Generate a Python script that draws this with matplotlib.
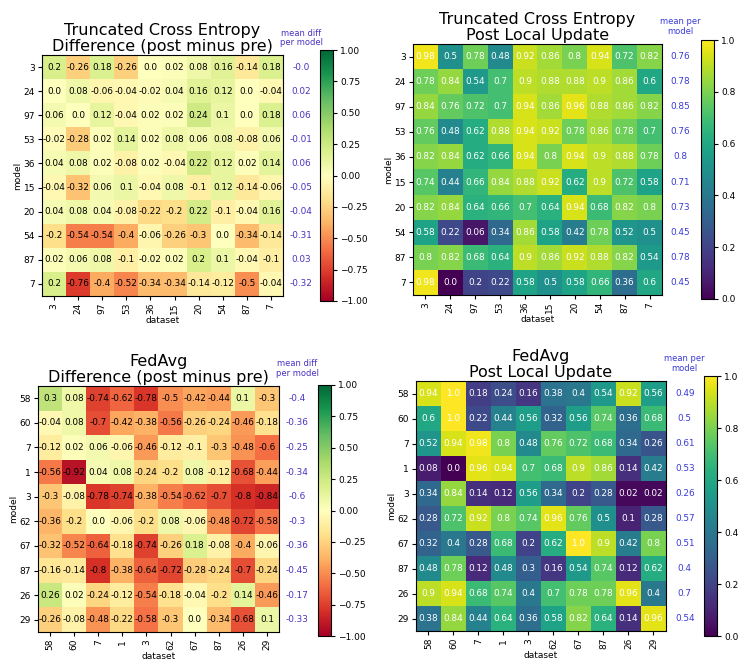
import matplotlib
matplotlib.use('Agg')
import matplotlib.pyplot as plt
import numpy as np

W, H = 738, 662

tce_ids = [3, 24, 97, 53, 36, 15, 20, 54, 87, 7]
fed_ids = [58, 60, 7, 1, 3, 62, 67, 87, 26, 29]

tce_diff = [
  [0.2, -0.26, 0.18, -0.26, 0.0, 0.02, 0.08, 0.16, -0.14, 0.18],
  [0.0, 0.08, -0.06, -0.04, -0.02, 0.04, 0.16, 0.12, 0.0, -0.04],
  [0.06, 0.0, 0.12, -0.04, 0.02, 0.02, 0.24, 0.1, 0.0, 0.18],
  [-0.02, -0.28, 0.02, 0.14, 0.02, 0.08, 0.06, 0.08, -0.08, 0.06],
  [0.04, 0.08, 0.02, -0.08, 0.02, -0.04, 0.22, 0.12, 0.02, 0.14],
  [-0.04, -0.32, 0.06, 0.1, -0.04, 0.08, -0.1, 0.12, -0.14, -0.06],
  [0.04, 0.08, 0.04, -0.08, -0.22, -0.2, 0.22, -0.1, -0.04, 0.16],
  [-0.2, -0.54, -0.54, -0.4, -0.06, -0.26, -0.3, 0.0, -0.34, -0.14],
  [0.02, 0.06, 0.08, -0.1, -0.02, 0.02, 0.2, 0.1, -0.04, -0.1],
  [0.2, -0.76, -0.4, -0.52, -0.34, -0.34, -0.14, -0.12, -0.5, -0.04],
]
tce_diff_mean = ['-0.0', '0.02', '0.06', '-0.01', '0.06', '-0.05', '-0.04', '-0.31', '0.03', '-0.32']

tce_post = [
  [0.98, 0.5, 0.78, 0.48, 0.92, 0.86, 0.8, 0.94, 0.72, 0.82],
  [0.78, 0.84, 0.54, 0.7, 0.9, 0.88, 0.88, 0.9, 0.86, 0.6],
  [0.84, 0.76, 0.72, 0.7, 0.94, 0.86, 0.96, 0.88, 0.86, 0.82],
  [0.76, 0.48, 0.62, 0.88, 0.94, 0.92, 0.78, 0.86, 0.78, 0.7],
  [0.82, 0.84, 0.62, 0.66, 0.94, 0.8, 0.94, 0.9, 0.88, 0.78],
  [0.74, 0.44, 0.66, 0.84, 0.88, 0.92, 0.62, 0.9, 0.72, 0.58],
  [0.82, 0.84, 0.64, 0.66, 0.7, 0.64, 0.94, 0.68, 0.82, 0.8],
  [0.58, 0.22, 0.06, 0.34, 0.86, 0.58, 0.42, 0.78, 0.52, 0.5],
  [0.8, 0.82, 0.68, 0.64, 0.9, 0.86, 0.92, 0.88, 0.82, 0.54],
  [0.98, 0.0, 0.2, 0.22, 0.58, 0.5, 0.58, 0.66, 0.36, 0.6],
]
tce_post_mean = ['0.76', '0.78', '0.85', '0.76', '0.8', '0.71', '0.73', '0.45', '0.78', '0.45']

fed_diff = [
  [0.3, 0.08, -0.74, -0.62, -0.78, -0.5, -0.42, -0.44, 0.1, -0.3],
  [-0.04, 0.08, -0.7, -0.42, -0.38, -0.56, -0.26, -0.24, -0.46, -0.18],
  [-0.12, 0.02, 0.06, -0.06, -0.46, -0.12, -0.1, -0.3, -0.48, -0.6],
  [-0.56, -0.92, 0.04, 0.08, -0.24, -0.2, 0.08, -0.12, -0.68, -0.44],
  [-0.3, -0.08, -0.78, -0.74, -0.38, -0.54, -0.62, -0.7, -0.8, -0.84],
  [-0.36, -0.2, 0.0, -0.06, -0.2, 0.08, -0.06, -0.48, -0.72, -0.58],
  [-0.32, -0.52, -0.64, -0.18, -0.74, -0.26, 0.18, -0.08, -0.4, -0.06],
  [-0.16, -0.14, -0.8, -0.38, -0.64, -0.72, -0.28, -0.24, -0.7, -0.24],
  [0.26, 0.02, -0.24, -0.12, -0.54, -0.18, -0.04, -0.2, 0.14, -0.46],
  [-0.26, -0.08, -0.48, -0.22, -0.58, -0.3, 0.0, -0.34, -0.68, 0.1],
]
fed_diff_mean = ['-0.4', '-0.36', '-0.25', '-0.34', '-0.6', '-0.3', '-0.36', '-0.45', '-0.17', '-0.33']

fed_post = [
  [0.94, 1.0, 0.18, 0.24, 0.16, 0.38, 0.4, 0.54, 0.92, 0.56],
  [0.6, 1.0, 0.22, 0.44, 0.56, 0.32, 0.56, 0.74, 0.36, 0.68],
  [0.52, 0.94, 0.98, 0.8, 0.48, 0.76, 0.72, 0.68, 0.34, 0.26],
  [0.08, 0.0, 0.96, 0.94, 0.7, 0.68, 0.9, 0.86, 0.14, 0.42],
  [0.34, 0.84, 0.14, 0.12, 0.56, 0.34, 0.2, 0.28, 0.02, 0.02],
  [0.28, 0.72, 0.92, 0.8, 0.74, 0.96, 0.76, 0.5, 0.1, 0.28],
  [0.32, 0.4, 0.28, 0.68, 0.2, 0.62, 1.0, 0.9, 0.42, 0.8],
  [0.48, 0.78, 0.12, 0.48, 0.3, 0.16, 0.54, 0.74, 0.12, 0.62],
  [0.9, 0.94, 0.68, 0.74, 0.4, 0.7, 0.78, 0.78, 0.96, 0.4],
  [0.38, 0.84, 0.44, 0.64, 0.36, 0.58, 0.82, 0.64, 0.14, 0.96],
]
fed_post_mean = ['0.49', '0.5', '0.61', '0.53', '0.26', '0.57', '0.51', '0.4', '0.7', '0.54']


def box(l, t, r, b):
  # pixel box -> figure fraction
  return [l / W, 1 - b / H, (r - l) / W, (b - t) / H]


def heatmap(fig, ax_box, cb_box, data, ids, means, title, head, diff):
  ax = fig.add_axes(box(*ax_box))
  data = np.array(data)
  if diff:
    cmap, vmin, vmax, tcol, mcol = 'RdYlGn', -1, 1, 'black', '#4a32c4'
  else:
    cmap, vmin, vmax, tcol, mcol = 'viridis', 0, 1, 'white', '#3a3ad8'
  im = ax.imshow(data, cmap=cmap, vmin=vmin, vmax=vmax, aspect='auto')
  n = len(ids)
  for i in range(n):
    for j in range(n):
      ax.text(j, i, str(data[i, j]), ha='center', va='center', color=tcol, fontsize=6.4)
    ax.text(n + 0.25, i, means[i], ha='center', va='center', color=mcol, fontsize=6.4, clip_on=False)
  ax.text(n + 0.25, -0.82, head, ha='center', va='bottom', color=mcol, fontsize=6,
          linespacing=1.1, clip_on=False)
  ax.set_xticks(range(n))
  ax.set_xticklabels([str(x) for x in ids], rotation=90)
  ax.set_yticks(range(n))
  ax.set_yticklabels([str(x) for x in ids])
  ax.tick_params(labelsize=6.5, length=3, pad=2)
  ax.set_xlabel('dataset', fontsize=6.5, labelpad=1)
  ax.set_ylabel('model', fontsize=6.5, labelpad=1)
  ax.set_title(title, fontsize=11.5, linespacing=1.05, pad=3)
  cax = fig.add_axes(box(*cb_box))
  cb = fig.colorbar(im, cax=cax)
  cb.ax.tick_params(labelsize=6.5, length=3, pad=2)
  if diff:
    cb.set_ticks([-1, -0.75, -0.5, -0.25, 0, 0.25, 0.5, 0.75, 1])
  return ax


fig = plt.figure(figsize=(W / 100, H / 100), dpi=100)

heatmap(fig, (42, 55, 283, 296), (320, 50, 333, 301), tce_diff, tce_ids, tce_diff_mean,
        'Truncated Cross Entropy\nDifference (post minus pre)', 'mean diff\nper model', True)
heatmap(fig, (413, 44, 662, 295), (701, 40, 714, 299), tce_post, tce_ids, tce_post_mean,
        'Truncated Cross Entropy\nPost Local Update', 'mean per\nmodel', False)
heatmap(fig, (38, 386, 279, 632), (318, 385, 331, 636), fed_diff, fed_ids, fed_diff_mean,
        'FedAvg\nDifference (post minus pre)', 'mean diff\nper model', True)
heatmap(fig, (416, 381, 666, 631), (704, 376, 717, 636), fed_post, fed_ids, fed_post_mean,
        'FedAvg\nPost Local Update', 'mean per\nmodel', False)

fig.savefig('out.png', dpi=100)
